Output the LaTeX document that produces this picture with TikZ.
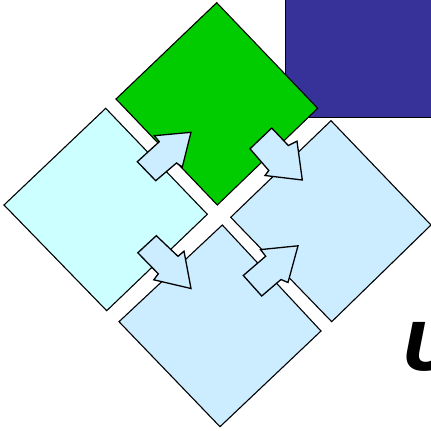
\documentclass[tikz,border=0pt]{standalone}
\usepackage{fontspec}
\newfontfamily\ufont{DejaVu Sans}
\definecolor{navyblock}{RGB}{54,50,153}
\definecolor{greenbox}{RGB}{0,204,0}
\definecolor{cyanbox}{RGB}{204,255,255}
\definecolor{bluebox}{RGB}{204,236,255}
\begin{document}
\begin{tikzpicture}[x=1pt,y=-1pt,
  diam/.style={draw=black,line width=1.1pt,line join=miter},
  blockarrow/.style={draw=black,fill=bluebox,line width=1.3pt,line join=miter},
  navyrect/.style={draw=black,fill=navyblock,line width=0.9pt}]
\useasboundingbox (0,0) rectangle (431,431);
\clip (0,0) rectangle (431,431);
% dark blue block
\draw[navyrect] (285,-10) rectangle (445,117.5);
% diamonds
\draw[diam,fill=greenbox] (216.7,2.7) coordinate (gT) -- (317.7,108.3) coordinate (gR) -- (217.3,205) coordinate (gB) -- (116,99) coordinate (gL) -- cycle;
\draw[diam,fill=cyanbox] (105.7,108.3) coordinate (lT) -- (207.3,214.3) coordinate (lR) -- (106.7,310.7) coordinate (lB) -- (4,205) coordinate (lL) -- cycle;
\draw[diam,fill=bluebox] (331,120.7) coordinate (rT) -- (431,225) coordinate (rR) -- (331.7,321.7) coordinate (rB) -- (230.7,217.3) coordinate (rL) -- cycle;
\draw[diam,fill=bluebox] (222.3,225) coordinate (bT) -- (321,331) coordinate (bR) -- (220,426.7) coordinate (bB) -- (119,321.7) coordinate (bL) -- cycle;
% block arrows
\draw[blockarrow] (191,132.3) -- (154.3,135.7) -- (159.3,141.7) -- (137.3,161.7) -- (155.7,180.7) -- (176.5,163.0) -- (182.3,167.0) -- cycle;
\draw[blockarrow] (302.3,180) -- (265,175.5) -- (268.8,170.5) -- (250,148.8) -- (271.7,128.0) -- (288.3,145.5) -- (297.0,141.2) -- cycle;
\draw[blockarrow] (191,288.5) -- (153.8,279.8) -- (158.3,273.8) -- (137.8,252.8) -- (156.3,235.7) -- (178.0,256.3) -- (184.0,251.2) -- cycle;
\draw[blockarrow] (298,245.8) -- (260.5,249.6) -- (265.7,256.2) -- (243.3,275.5) -- (261.7,296) -- (281.0,279.5) -- (288.0,282.5) -- cycle;
% partial title letter (cut off by the picture edge, as in the reference)
\node[anchor=base west,inner sep=0pt,font=\ufont\bfseries\itshape\fontsize{66}{66}\selectfont] (title) at (402,370) {U};
\end{tikzpicture}
\end{document}
